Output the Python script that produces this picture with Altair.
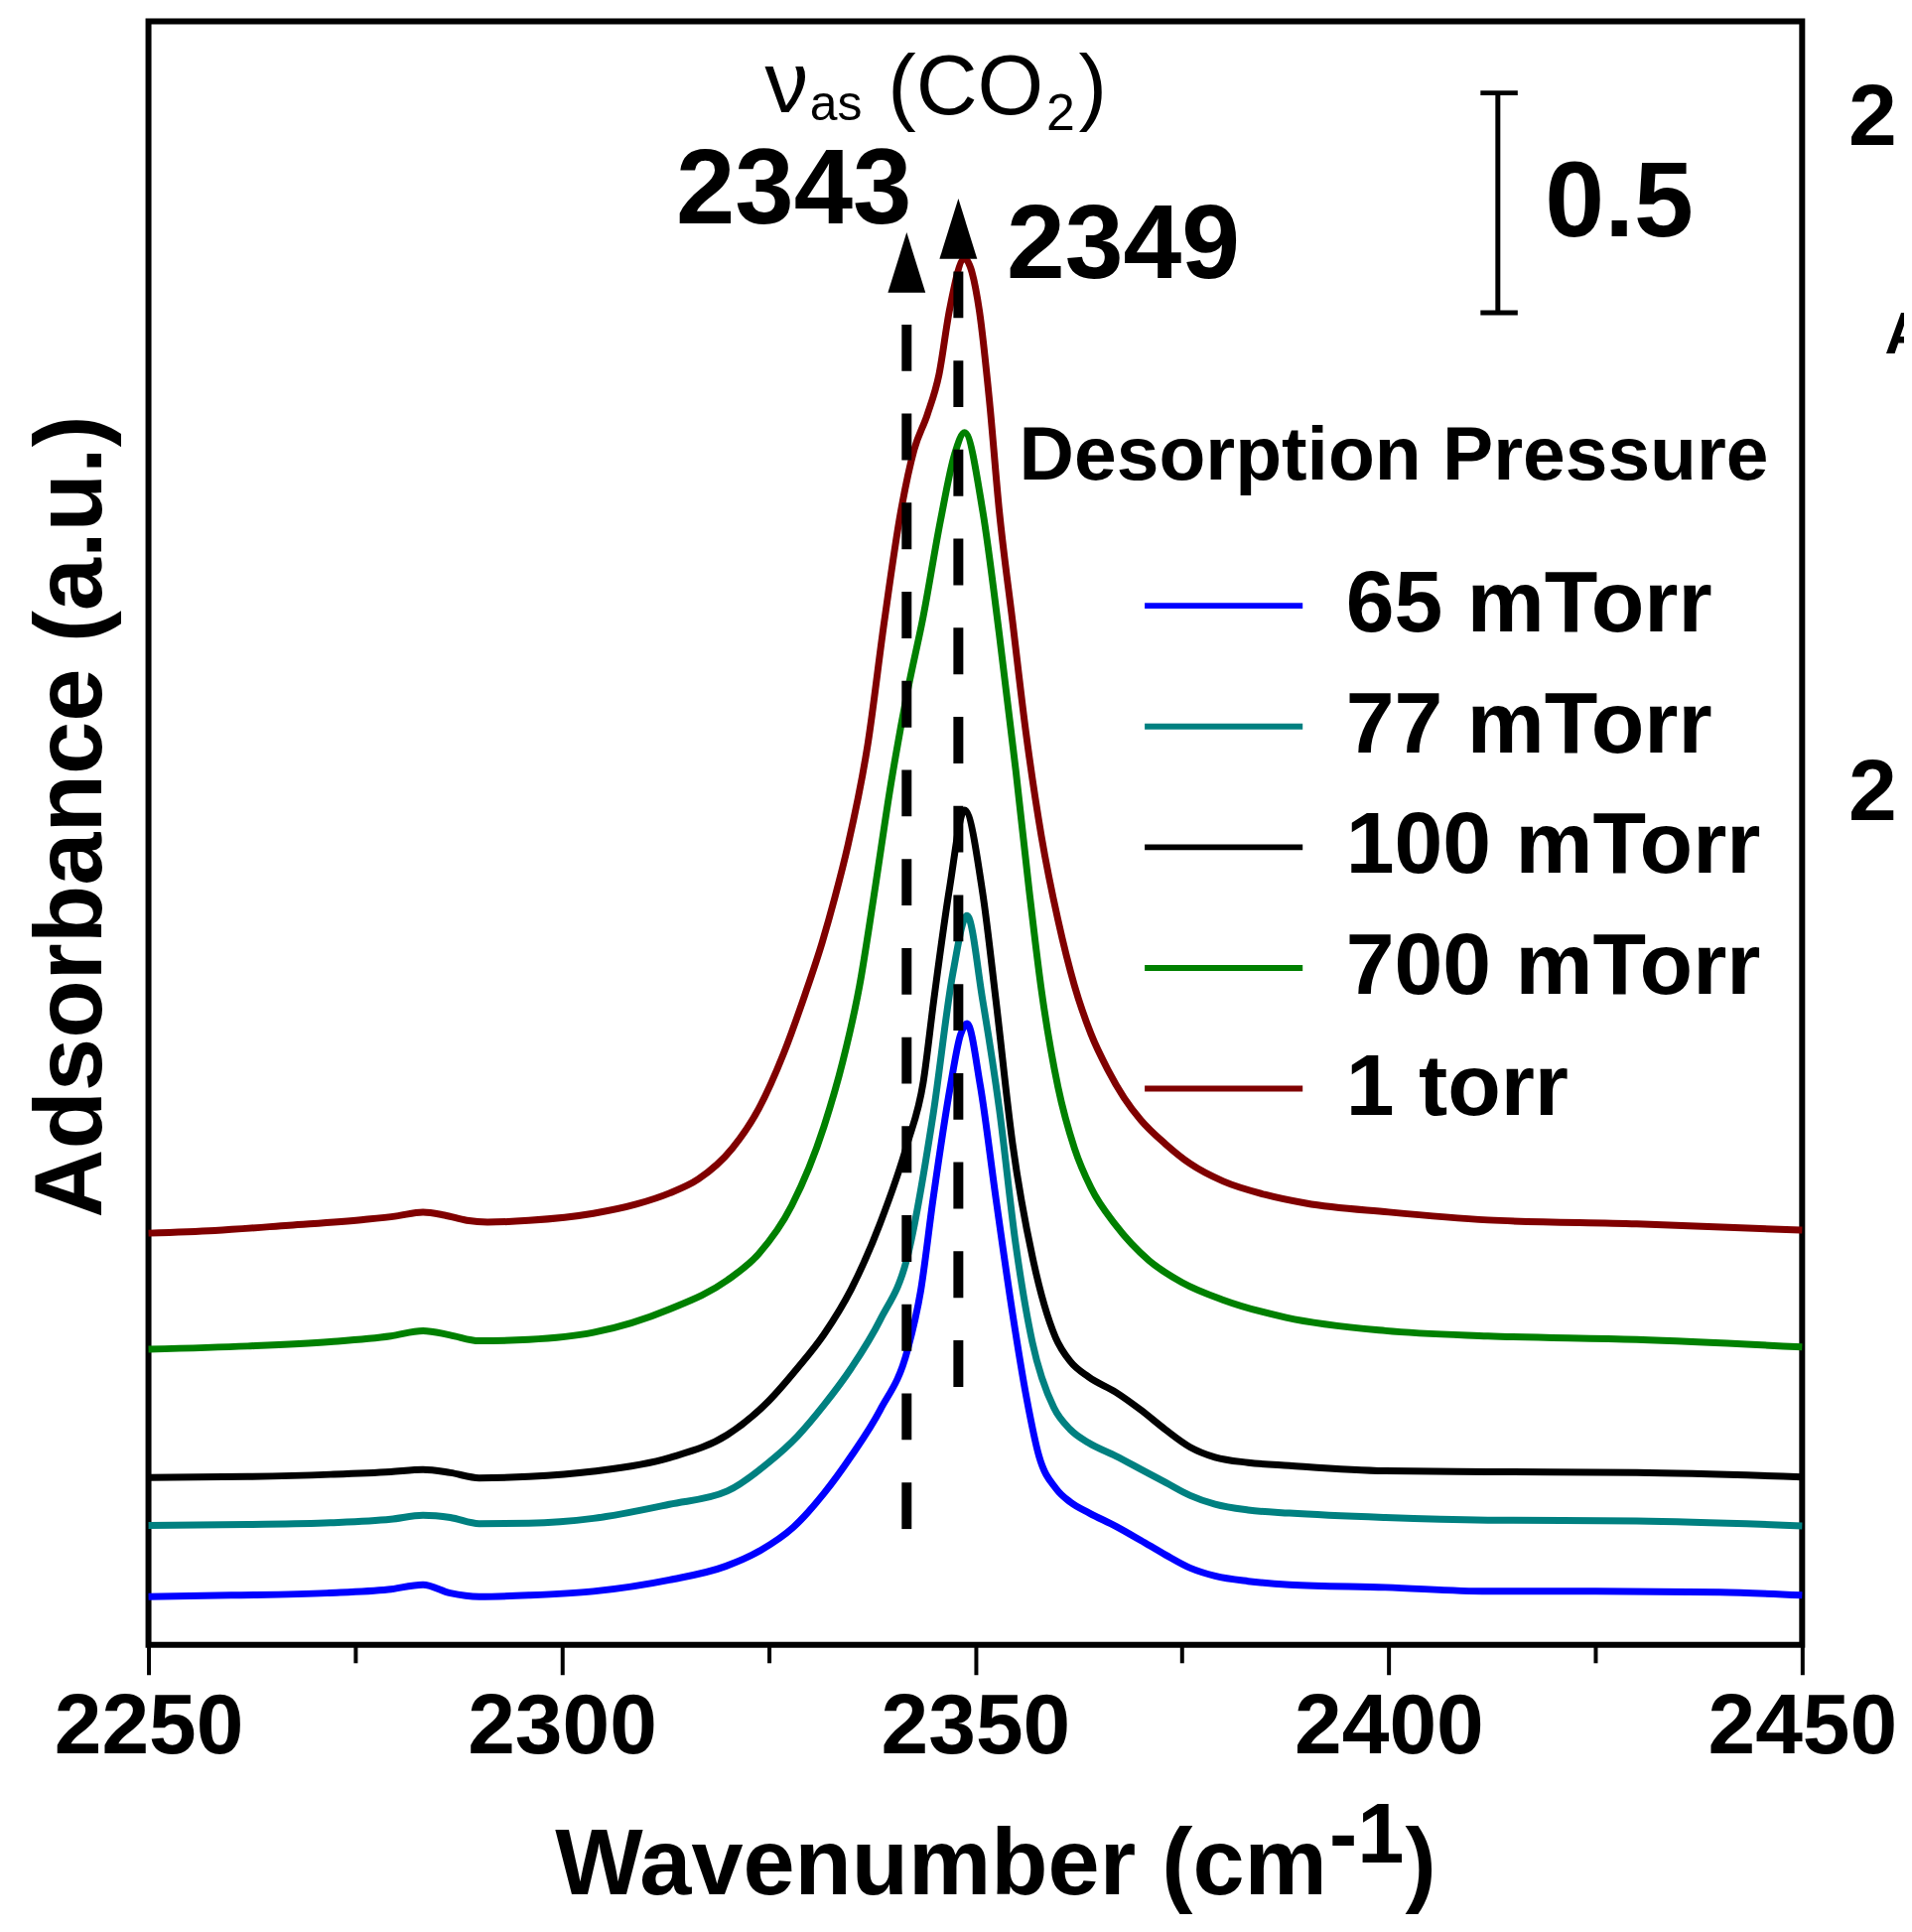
import altair as alt
import pandas as pd

FONT = "Liberation Sans"

# ---------------- data ----------------
SERIES = ["65 mTorr", "77 mTorr", "100 mTorr", "700 mTorr", "1 torr"]
COLORS = ["#0000ff", "#008080", "#000000", "#008000", "#800000"]

WN_65 = [2250, 2260, 2271.6, 2279, 2283.2, 2286.5, 2290, 2296, 2303.8, 2313, 2319.8, 2324,
         2328, 2331.7, 2335, 2338.5, 2341.8, 2343.4, 2344.9, 2347.0, 2348.2, 2349.0, 2350.6,
         2352.5, 2354.5, 2356.2, 2357.7, 2359.8, 2361.5, 2363.8, 2367, 2370, 2373, 2376,
         2379, 2383, 2388, 2399.6, 2412, 2425, 2440, 2450]
AB_65 = [0.110, 0.113, 0.118, 0.126, 0.137, 0.118, 0.110, 0.113, 0.122, 0.148, 0.179, 0.215,
         0.268, 0.345, 0.430, 0.535, 0.671, 0.806, 1.015, 1.273, 1.388, 1.414, 1.273,
         1.015, 0.755, 0.562, 0.430, 0.355, 0.325, 0.300, 0.270, 0.238, 0.205, 0.175,
         0.157, 0.145, 0.137, 0.131, 0.122, 0.122, 0.120, 0.113]

WN_77 = [2250, 2262, 2272, 2279.3, 2283.2, 2286.5, 2290, 2296, 2303.8, 2313, 2320, 2325,
         2328.5, 2331.7, 2335, 2338.5, 2341.8, 2344.9, 2347.3, 2349.0, 2350.9, 2352.9, 2354.9,
         2356.9, 2359.5, 2361.5, 2363.7, 2367, 2370, 2373, 2376, 2379, 2383, 2388, 2399.6,
         2412, 2430, 2450]
AB_77 = [0.272, 0.274, 0.278, 0.286, 0.295, 0.290, 0.276, 0.277, 0.288, 0.320, 0.350, 0.415,
         0.475, 0.546, 0.630, 0.740, 0.884, 1.207, 1.530, 1.660, 1.466, 1.220, 0.910,
         0.689, 0.540, 0.490, 0.460, 0.430, 0.400, 0.370, 0.340, 0.320, 0.307, 0.300, 0.290,
         0.284, 0.282, 0.271]

WN_100 = [2250, 2262, 2272, 2279.3, 2283.2, 2286.5, 2290, 2296, 2303.8, 2313, 2320, 2325,
          2328.5, 2331.7, 2335, 2338.5, 2341.8, 2343.7, 2345, 2346.9, 2348.7, 2350.9, 2352.5,
          2354.5, 2356.9, 2359.7, 2361.5, 2363.7, 2367, 2370, 2373, 2376, 2379, 2383, 2388,
          2399.6, 2412, 2430, 2450]
AB_100 = [0.381, 0.383, 0.388, 0.394, 0.399, 0.392, 0.380, 0.383, 0.395, 0.426, 0.478, 0.555,
          0.630, 0.707, 0.810, 0.960, 1.142, 1.280, 1.470, 1.724, 1.900, 1.710, 1.466,
          1.142, 0.884, 0.700, 0.645, 0.610, 0.575, 0.535, 0.490, 0.450, 0.427, 0.415, 0.408,
          0.396, 0.394, 0.392, 0.382]

WN_700 = [2250, 2262, 2272, 2279.3, 2283.2, 2286.5, 2290, 2296, 2303.8, 2313, 2320, 2323.8,
          2327.8, 2331.7, 2334, 2336, 2337.7, 2339.8, 2341.8, 2343.7, 2345.8, 2347.5, 2348.7,
          2350.9, 2352.9, 2354.9, 2356.5, 2358, 2360, 2362, 2364, 2367, 2371, 2375, 2380,
          2387.6, 2399.6, 2412, 2430, 2450]
AB_700 = [0.673, 0.680, 0.690, 0.703, 0.715, 0.705, 0.692, 0.695, 0.711, 0.764, 0.830, 0.890,
          1.000, 1.180, 1.330, 1.500, 1.700, 1.960, 2.170, 2.340, 2.560, 2.710, 2.759,
          2.580, 2.300, 1.990, 1.720, 1.490, 1.270, 1.130, 1.040, 0.955, 0.875, 0.825, 0.785,
          0.745, 0.715, 0.703, 0.695, 0.678]

WN_1T = [2250, 2258, 2267, 2276, 2280, 2283.2, 2285.8, 2288.5, 2291, 2296, 2303.8, 2309,
         2313, 2316.5, 2320.6, 2323.8, 2326.8, 2329.4, 2331.5, 2333, 2334.6, 2337, 2339, 2341,
         2342.6, 2344.2, 2345.6, 2346.9, 2348.7, 2350.5, 2351.7, 2352.9, 2354.5, 2356.1,
         2358, 2360, 2362, 2364, 2366, 2368, 2370, 2373, 2376, 2380, 2385, 2390, 2400,
         2412, 2430, 2450]
AB_1T = [0.937, 0.943, 0.955, 0.968, 0.976, 0.985, 0.978, 0.966, 0.962, 0.966, 0.982, 1.003,
         1.028, 1.060, 1.130, 1.220, 1.345, 1.480, 1.600, 1.700, 1.820, 2.050, 2.330, 2.580,
         2.720, 2.800, 2.890, 3.040, 3.155, 3.035, 2.833, 2.580, 2.330, 2.080,
         1.840, 1.650, 1.500, 1.390, 1.310, 1.245, 1.195, 1.140, 1.095, 1.055, 1.025, 1.005,
         0.985, 0.967, 0.958, 0.944]

X_MAJOR = [2250, 2300, 2350, 2400, 2450]
X_MINOR = [2275, 2325, 2375, 2425]

rows = []
for name, wn, ab in zip(SERIES, [WN_65, WN_77, WN_100, WN_700, WN_1T],
                        [AB_65, AB_77, AB_100, AB_700, AB_1T]):
    for w, a in zip(wn, ab):
        rows.append({"series": name, "wavenumber": w, "absorbance": a})
df = pd.DataFrame(rows)

# ---------------- scales / axes ----------------
xscale = alt.Scale(domain=[2250, 2450], nice=False, zero=False)
yscale = alt.Scale(domain=[0, 3.695], nice=False, zero=False)

x_major = alt.Axis(values=X_MAJOR, format="d", orient="bottom", title=None,
                   tickSize=30, tickWidth=4, tickColor="black",
                   labelFont=FONT, labelFontSize=86, labelFontWeight="bold",
                   labelColor="black", labelPadding=11, labelOverlap=False,
                   labelFlush=False, labelBound=False, labelLimit=1000,
                   domain=False, grid=False)
x_minor = alt.Axis(values=X_MINOR, orient="bottom", title=None, labels=False,
                   tickSize=18, tickWidth=4, tickColor="black",
                   domain=False, grid=False)

one = alt.Data(values=[{}])


def X(v, axis=None):
    return alt.X(datum=v, scale=xscale, axis=axis)


def Y(v):
    return alt.Y(datum=v, scale=yscale, axis=None)


def label(text, x, y, size, weight="bold", align="left", angle=0):
    return alt.Chart(one).mark_text(
        text=text, font=FONT, fontSize=size, fontWeight=weight, align=align,
        baseline="alphabetic", color="black", angle=angle
    ).encode(x=X(x), y=Y(y))


# legend swatch: a horizontal stroke longer than the symbol box, so rows stay compact
SWATCH = "M-1.2,0H1.2"

# ---------------- spectra ----------------
lines = alt.Chart(df).mark_line(strokeWidth=7, interpolate="monotone").encode(
    x=alt.X("wavenumber:Q", scale=xscale, axis=x_major),
    y=alt.Y("absorbance:Q", scale=yscale, axis=None),
    color=alt.Color(
        "series:N",
        scale=alt.Scale(domain=SERIES, range=COLORS),
        legend=alt.Legend(title=None, orient="none", legendX=1017, legendY=521,
                          symbolType=SWATCH, symbolSize=17689, symbolStrokeWidth=6,
                          labelFont=FONT, labelFontSize=88, labelFontWeight="bold",
                          labelColor="black", labelOffset=54, labelLimit=1000,
                          rowPadding=8, padding=0),
    ),
    order=alt.Order("wavenumber:Q"),
)

# ---------------- peak markers ----------------
dash1 = alt.Chart(one).mark_rule(strokeWidth=10, color="black", strokeDash=[47, 43],
                                 strokeDashOffset=54).encode(
    x=X(2341.7), y=Y(3.086), y2=alt.Y2(datum=0.257))
dash2 = alt.Chart(one).mark_rule(strokeWidth=10, color="black", strokeDash=[47, 43],
                                 strokeDashOffset=77).encode(
    x=X(2347.95), y=Y(3.155), y2=alt.Y2(datum=0.55))
TRI = "M0,-1L0.623,1L-0.623,1Z"
arrow1 = alt.Chart(one).mark_point(shape=TRI, size=3721, filled=True, color="black",
                                   opacity=1, strokeWidth=0).encode(x=X(2341.7), y=Y(3.146))
arrow2 = alt.Chart(one).mark_point(shape=TRI, size=3721, filled=True, color="black",
                                   opacity=1, strokeWidth=0).encode(x=X(2347.95), y=Y(3.223))

# ---------------- scale bar ----------------
bar = alt.Chart(one).mark_rule(strokeWidth=5, color="black").encode(
    x=X(2413.2, axis=x_minor), y=Y(3.032), y2=alt.Y2(datum=3.532))
cap_top = alt.Chart(one).mark_rule(strokeWidth=5, color="black").encode(
    x=X(2411.1), x2=alt.X2(datum=2415.6), y=Y(3.532))
cap_bot = alt.Chart(one).mark_rule(strokeWidth=5, color="black").encode(
    x=X(2411.1), x2=alt.X2(datum=2415.6), y=Y(3.032))

texts = [
    label("Adsorbance (a.u.)", 2244.25, 1.885, 96, angle=270, align="center"),
    label("2343", 2342.3, 3.236, 107, align="right"),
    label("2349", 2353.8, 3.110, 106),
    label("0.5", 2418.9, 3.205, 108),
    label("\u03bd", 2324.55, 3.489, 88, weight="normal"),
    label("as", 2330.0, 3.470, 50, weight="normal"),
    label("(CO", 2339.4, 3.484, 86, weight="normal"),
    label("2", 2358.6, 3.448, 52, weight="normal"),
    label(")", 2362.5, 3.484, 86, weight="normal"),
    label("Desorption Pressure", 2355.3, 2.652, 77),
    label("Wavenumber (cm", 2299.2, -0.5676, 94),
    label("-1", 2392.8, -0.4955, 85),
    label(")", 2402.0, -0.5676, 94),
    # glyphs of the neighbouring panel, cut by the right edge
    label("2", 2455.6, 3.414, 88),
    label("A", 2460.0, 2.939, 60),
    label("2", 2455.6, 1.878, 88),
]

chart = alt.layer(
    lines, dash1, dash2, arrow1, arrow2, bar, cap_top, cap_bot, *texts
).resolve_axis(x="independent").properties(
    width=1671, height=1640.5,
    autosize=alt.AutoSizeParams(type="none"),
    padding={"left": 142, "top": 10.5, "right": 103, "bottom": 273},
    background="white",
).configure_view(stroke="black", strokeWidth=6)

chart.save("out.html", embed_options={"renderer": "svg", "actions": False})
